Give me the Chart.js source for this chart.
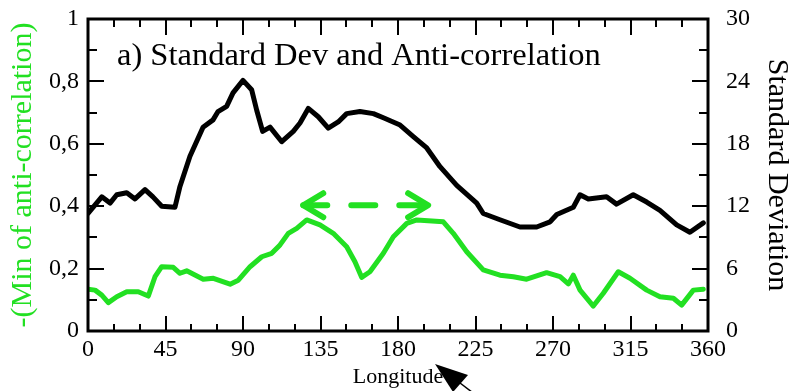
<!DOCTYPE html>
<html>
<head>
<meta charset="utf-8">
<script src="https://cdn.jsdelivr.net/npm/chart.js@4.4.0/dist/chart.umd.min.js"></script>
<style>
  html, body { margin: 0; padding: 0; background: #fff; }
  #wrap { width: 795px; height: 391px; }
</style>
</head>
<body>
<div id="wrap"><canvas id="c" width="795" height="391"></canvas></div>
<script>
// Standard deviation along longitude (black curve, right axis)
const sdLon = [0, 8, 12.8, 16.7, 22.5, 27.3, 33.1, 37.7, 42.8, 50.5, 53.4, 59.2, 66.8, 72.6, 75.5, 80.5,
  84.2, 90, 95, 98, 101.4, 105.7, 112.5, 119.2, 123.1, 127.9, 133.7, 139.5, 145.3, 150.2, 157.9, 165.7,
  171.5, 181.2, 188.9, 196.7, 204.4, 214.1, 225.7, 229.5, 239.2, 250.8, 260.5, 268.3, 272.2, 281.8,
  285.7, 290.5, 301.1, 306.9, 316.6, 324.4, 332.1, 341.8, 349.5, 357.3];
const sdValues = [11.3, 12.9, 12.3, 13.1, 13.3, 12.7, 13.6, 12.9, 12.0, 11.9, 13.9, 16.8, 19.6, 20.3, 21.1, 21.6,
  22.9, 24.1, 23.2, 21.2, 19.2, 19.6, 18.2, 19.2, 20.0, 21.4, 20.6, 19.5, 20.1, 20.9, 21.1, 20.9,
  20.5, 19.8, 18.7, 17.6, 15.8, 14.0, 12.3, 11.3, 10.7, 10.0, 10.0, 10.5, 11.2, 11.9,
  13.1, 12.7, 12.9, 12.2, 13.1, 12.4, 11.6, 10.2, 9.5, 10.4];

// -(min of anti-correlation) along longitude (green curve, left axis)
const corrLon = [0, 4.1, 8, 11.8, 16.7, 22.5, 29.2, 35, 38.9, 42.8, 49.5, 53.4, 57.3, 66.9, 72.8, 82.5,
  87.3, 94.1, 100.9, 106.7, 111.5, 116.3, 121.2, 127, 134.7, 142.4, 150.2, 155, 158.9, 163.7, 171.5,
  177.3, 185.1, 190.9, 206.3, 212.1, 219.9, 229.5, 239.2, 247, 254.7, 266.3, 274.1, 278.9, 281.8,
  285.7, 293.4, 299.2, 307.9, 314.7, 324.4, 332.1, 339.9, 344.7, 351.5, 357.3];
const corrValues = [0.134, 0.131, 0.115, 0.091, 0.110, 0.126, 0.126, 0.112, 0.174, 0.206, 0.204, 0.185, 0.193, 0.166, 0.169, 0.150,
  0.163, 0.206, 0.238, 0.249, 0.276, 0.313, 0.329, 0.356, 0.340, 0.313, 0.270, 0.222, 0.172, 0.190, 0.249,
  0.302, 0.345, 0.356, 0.350, 0.313, 0.254, 0.196, 0.179, 0.174, 0.166, 0.187, 0.174, 0.151, 0.179,
  0.131, 0.080, 0.121, 0.190, 0.169, 0.131, 0.110, 0.105, 0.083, 0.131, 0.134];

// Axis tick labels
const xTickValues = [0, 45, 90, 135, 180, 225, 270, 315, 360];
const xTickLabels = ['0', '45', '90', '135', '180', '225', '270', '315', '360'];
const leftTickValues = [0, 0.2, 0.4, 0.6, 0.8, 1];
const leftTickLabels = ['0', '0,2', '0,4', '0,6', '0,8', '1'];
const rightTickValues = [0, 6, 12, 18, 24, 30];
const rightTickLabels = ['0', '6', '12', '18', '24', '30'];

// Minor tick spacing for each axis
const xMinorStep = 15;
const leftMinorStep = 0.1;
const rightMinorStep = 3;

// Dashed double arrow marking the longitude band (left-axis level)
const spanLon = [125, 197.5];
const spanLevel = 0.403;
// Longitude under which the pointer arrow sits
const pointerLon = 201.5;

const GREEN = '#22e022';
const SERIF = "'Liberation Serif', 'Times New Roman', serif";

function labelFor(values, labels, v) {
  const i = values.findIndex(t => Math.abs(t - v) < 1e-6);
  return i >= 0 ? labels[i] : '';
}

// Keep the plot box fixed: drop the extra room Chart.js reserves for edge labels
function noEdgePadding(s) {
  s.paddingTop = 0; s.paddingBottom = 0; s.paddingLeft = 0; s.paddingRight = 0;
}

// Box frame with inward major and minor ticks on all four sides
const framePlugin = {
  id: 'frame',
  afterDatasetsDraw(chart) {
    const { ctx, chartArea: a, scales } = chart;
    ctx.save();
    ctx.strokeStyle = '#000';
    ctx.lineWidth = 2;
    ctx.beginPath();
    for (let i = 0; i * xMinorStep <= 360 + 1e-9; i++) {
      const v = i * xMinorStep;
      const px = Math.round(scales.x.getPixelForValue(v));
      const len = v % 45 === 0 ? 15 : 7;
      ctx.moveTo(px, a.bottom); ctx.lineTo(px, a.bottom - len);
      ctx.moveTo(px, a.top); ctx.lineTo(px, a.top + (v % 45 === 0 ? 16 : 8));
    }
    for (let i = 0; i * leftMinorStep <= 1 + 1e-9; i++) {
      const py = Math.round(scales.y.getPixelForValue(i * leftMinorStep));
      const len = i % 2 === 0 ? 16 : 9;
      ctx.moveTo(a.left, py); ctx.lineTo(a.left + len, py);
    }
    for (let i = 0; i * rightMinorStep <= 30 + 1e-9; i++) {
      const py = Math.round(scales.y2.getPixelForValue(i * rightMinorStep));
      const len = i % 2 === 0 ? 16 : 9;
      ctx.moveTo(a.right, py); ctx.lineTo(a.right - len, py);
    }
    ctx.stroke();
    ctx.lineWidth = 3;
    ctx.strokeRect(a.left, a.top, a.right - a.left, a.bottom - a.top);
    ctx.restore();
  }
};

// Panel title inside the plot box
const panelTitlePlugin = {
  id: 'panelTitle',
  afterDraw(chart) {
    const { ctx, chartArea: a } = chart;
    ctx.save();
    ctx.font = '32.5px ' + SERIF;
    ctx.fillStyle = '#000';
    ctx.textBaseline = 'alphabetic';
    ctx.textAlign = 'left';
    ctx.fillText('a) Standard Dev and Anti-correlation', a.left + 29, a.top + 46);
    ctx.restore();
  }
};

// Green dashed double-headed arrow over the two correlation peaks
const spanArrowPlugin = {
  id: 'spanArrow',
  afterDatasetsDraw(chart) {
    const { ctx, scales } = chart;
    const x1 = scales.x.getPixelForValue(spanLon[0]);
    const x2 = scales.x.getPixelForValue(spanLon[1]);
    const y = scales.y.getPixelForValue(spanLevel);
    ctx.save();
    ctx.strokeStyle = GREEN;
    ctx.lineWidth = 6;
    ctx.lineCap = 'round';
    ctx.lineJoin = 'round';
    ctx.setLineDash([24, 24]);
    ctx.beginPath();
    ctx.moveTo(x1, y); ctx.lineTo(x2, y);
    ctx.stroke();
    ctx.setLineDash([]);
    ctx.beginPath();
    ctx.moveTo(x1 + 20, y - 12); ctx.lineTo(x1, y); ctx.lineTo(x1 + 20, y + 12);
    ctx.moveTo(x2 - 20, y - 12); ctx.lineTo(x2, y); ctx.lineTo(x2 - 20, y + 12);
    ctx.stroke();
    ctx.restore();
  }
};

// Black pointer arrow below the axis
const pointerPlugin = {
  id: 'pointer',
  afterDraw(chart) {
    const { ctx, chartArea: a, scales } = chart;
    const tx = scales.x.getPixelForValue(pointerLon);
    const ty = a.bottom + 33;
    ctx.save();
    ctx.fillStyle = '#000';
    ctx.strokeStyle = '#000';
    ctx.beginPath();
    ctx.moveTo(tx, ty);
    ctx.lineTo(tx + 33, ty + 11);
    ctx.lineTo(tx + 18, ty + 28);
    ctx.closePath();
    ctx.fill();
    ctx.lineWidth = 1.5;
    ctx.beginPath();
    ctx.moveTo(tx + 25, ty + 19);
    ctx.lineTo(tx + 46, ty + 35);
    ctx.stroke();
    ctx.restore();
  }
};

const tickFont = { family: SERIF, size: 24 };

new Chart(document.getElementById('c'), {
  type: 'line',
  data: {
    datasets: [
      {
        label: 'Standard Deviation',
        data: sdLon.map((x, i) => ({ x, y: sdValues[i] })),
        yAxisID: 'y2',
        borderColor: '#000',
        borderWidth: 5,
        pointRadius: 0,
        tension: 0,
        borderJoinStyle: 'round',
        borderCapStyle: 'round',
        fill: false
      },
      {
        label: '-(Min of anti-correlation)',
        data: corrLon.map((x, i) => ({ x, y: corrValues[i] })),
        yAxisID: 'y',
        borderColor: GREEN,
        borderWidth: 5,
        pointRadius: 0,
        tension: 0,
        borderJoinStyle: 'round',
        borderCapStyle: 'round',
        fill: false
      }
    ]
  },
  options: {
    responsive: false,
    devicePixelRatio: 1,
    animation: false,
    events: [],
    layout: { padding: { top: 19, left: 0, right: 0, bottom: 0 } },
    plugins: { legend: { display: false }, tooltip: { enabled: false } },
    scales: {
      x: {
        type: 'linear', position: 'bottom', min: 0, max: 360,
        afterBuildTicks: s => { s.ticks = xTickValues.map(v => ({ value: v })); },
        ticks: {
          autoSkip: false, maxRotation: 0, padding: 4, color: '#000', font: tickFont,
          callback: v => labelFor(xTickValues, xTickLabels, v)
        },
        grid: { display: false, drawTicks: false },
        border: { display: false },
        title: { display: true, text: 'Longitude', color: '#000', font: { family: SERIF, size: 22 }, padding: { top: 0, bottom: 1 } },
        afterFit: s => { s.height = 60; noEdgePadding(s); }
      },
      y: {
        type: 'linear', position: 'left', min: 0, max: 1,
        afterBuildTicks: s => { s.ticks = leftTickValues.map(v => ({ value: v })); },
        ticks: {
          autoSkip: false, padding: 9, color: '#000', font: tickFont,
          callback: v => labelFor(leftTickValues, leftTickLabels, v)
        },
        grid: { display: false, drawTicks: false },
        border: { display: false },
        title: { display: true, text: '-(Min of anti-correlation)', color: GREEN, font: { family: SERIF, size: 30 }, padding: { top: 5, bottom: 0 } },
        afterFit: s => { s.width = 88; noEdgePadding(s); }
      },
      y2: {
        type: 'linear', position: 'right', min: 0, max: 30,
        afterBuildTicks: s => { s.ticks = rightTickValues.map(v => ({ value: v })); },
        ticks: {
          autoSkip: false, padding: 18, color: '#000', font: tickFont,
          callback: v => labelFor(rightTickValues, rightTickLabels, v)
        },
        grid: { display: false, drawTicks: false },
        border: { display: false },
        title: { display: true, text: 'Standard Deviation', color: '#000', font: { family: SERIF, size: 30 }, padding: { top: 0, bottom: 0 } },
        afterFit: s => { s.width = 87; noEdgePadding(s); }
      }
    }
  },
  plugins: [framePlugin, spanArrowPlugin, panelTitlePlugin, pointerPlugin]
});
</script>
</body>
</html>
